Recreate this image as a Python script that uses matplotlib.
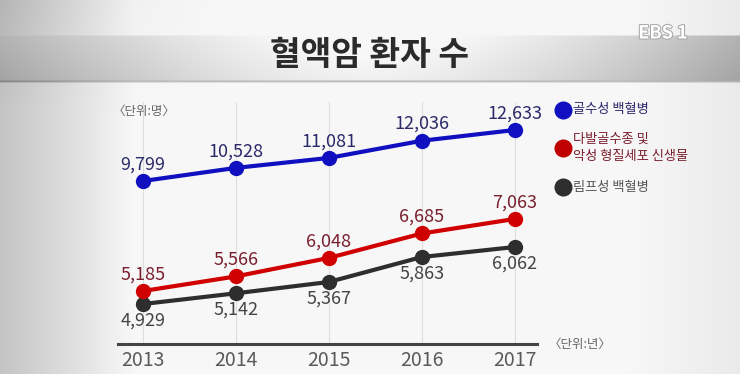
import numpy as np
import matplotlib
matplotlib.use("Agg")
import matplotlib.pyplot as plt
import matplotlib.patheffects as pe

plt.rcParams['font.family'] = ['Noto Sans CJK KR', 'DejaVu Sans']

# 데이터
years = [2013, 2014, 2015, 2016, 2017]
year_labels = ['2013', '2014', '2015', '2016', '2017']
myeloid = [9799, 10528, 11081, 12036, 12633]      # 골수성 백혈병
myeloma = [5185, 5566, 6048, 6685, 7063]          # 다발골수종 및 악성 형질세포 신생물
lymphoid = [4929, 5142, 5367, 5863, 6062]         # 림프성 백혈병
series_names = ['골수성 백혈병', '다발골수종 및\n악성 형질세포 신생물', '림프성 백혈병']

W, H = 740, 374
fig = plt.figure(figsize=(W / 100, H / 100), dpi=100)

# 배경 그라데이션
bg = fig.add_axes([0, 0, 1, 1], zorder=-5)
xs = np.linspace(0, 1, 400)
ys = np.linspace(0, 1, 200)
X, Y = np.meshgrid(xs, ys)
base = 0.97 - 0.2 * np.clip(1 - X / 0.18, 0, 1) - 0.05 * np.clip((X - 0.85) / 0.15, 0, 1)
base = base - 0.06 * np.clip(1 - Y / 0.3, 0, 1) * np.clip(1 - X / 0.3, 0, 1)
# 제목 띠 (y: 35~80 px)
band_top, band_bot = 35 / H, 80 / H
in_band = (Y >= band_top) & (Y <= band_bot)
band_prof = 1.0 - 0.3 * np.abs(X - 0.5) ** 1.6 * 3.0
band_prof = band_prof - 0.06 * ((Y - band_top) / (band_bot - band_top))
base = np.where(in_band, np.minimum(base, band_prof), base)
edge = (Y > band_bot) & (Y < band_bot + 2.5 / H)
base = np.where(edge, base - 0.25, base)
base = np.clip(base, 0, 1)
bg.imshow(np.dstack([base, base, base]), extent=[0, 1, 1, 0], aspect='auto', interpolation='bilinear')
bg.set_xlim(0, 1)
bg.set_ylim(1, 0)
bg.axis('off')

fig.text(370 / W, 1 - 56 / H, '혈액암 환자 수', ha='center', va='center',
         fontsize=24, fontweight='bold', color='#2b2b2b')
fig.text(663 / W, 1 - 33 / H, 'EBS 1', ha='center', va='center',
         fontsize=13, fontweight='bold', color='white',
         path_effects=[pe.withStroke(linewidth=1.5, foreground='#a8a8a8')])

# 차트 영역
left, right, bottom, top = 118, 537, 344, 120
ax = fig.add_axes([left / W, 1 - bottom / H, (right - left) / W, (bottom - top) / H])
ax.patch.set_alpha(0)
ax_blue = ax.twinx()
ax_red = ax.twinx()

ax.set_xlim(2012.73, 2017.24)
ax.set_ylim(4134, 8587)
ax_blue.set_ylim(741, 13189)
ax_red.set_ylim(3803, 9645)

for a in (ax, ax_blue, ax_red):
    for s in a.spines.values():
        s.set_visible(False)
    a.set_yticks([])
ax.spines['bottom'].set_visible(True)
ax.spines['bottom'].set_color('#444444')
ax.spines['bottom'].set_linewidth(2.2)
ax.set_xticks(years)
ax.set_xticklabels(year_labels, fontsize=14, color='#5a5a5a')
ax.tick_params(axis='x', length=0, pad=4)

for yr in years:
    ax.axvline(yr, ymax=1.08, color='#dedede', lw=0.8, zorder=0, clip_on=False)

styles = [
    (ax_blue, myeloid, '#1010c0', '#2a2a6a', 1),
    (ax_red, myeloma, '#d00000', '#7a1f2e', 1),
    (ax, lymphoid, '#2e2e2e', '#444444', -1),
]
for a, vals, lc, tc, side in styles:
    a.plot(years, vals, color=lc, lw=3, marker='o', markersize=10,
           markerfacecolor=lc, markeredgecolor=lc, zorder=3)
    for x, v in zip(years, vals):
        a.annotate(f'{v:,}', (x, v), xytext=(0, 12 * side), textcoords='offset points',
                   ha='center', va='center', fontsize=13, color=tc)

fig.text(144 / W, 1 - 111 / H, '〈단위:명〉', ha='center', va='center', fontsize=9, color='#666666')
fig.text(580 / W, 1 - 344 / H, '〈단위:년〉', ha='center', va='center', fontsize=9, color='#666666')

# 범례
legend_y = [110, 148, 187]
legend_col = ['#1010c0', '#c00000', '#2e2e2e']
legend_txt = ['#2a2a6a', '#7a1f2e', '#555555']
for name, yy, c, tc in zip(series_names, legend_y, legend_col, legend_txt):
    fig.lines.append(plt.Line2D([563 / W], [1 - yy / H], marker='o', markersize=12,
                                color=c, transform=fig.transFigure))
    fig.text(573 / W, 1 - yy / H, name, ha='left', va='center', fontsize=9.5,
             color=tc, linespacing=1.35)

fig.savefig('out.png', dpi=100)
